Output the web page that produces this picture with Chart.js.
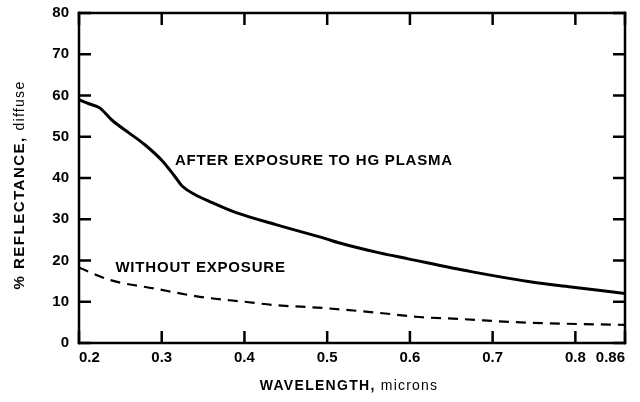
<!DOCTYPE html>
<html>
<head>
<meta charset="utf-8">
<script src="https://cdn.jsdelivr.net/npm/chart.js@4/dist/chart.umd.min.js"></script>
<style>
html,body{margin:0;padding:0;background:#fff;}
</style>
</head>
<body>
<canvas id="c" width="640" height="402"></canvas>
<script>
// Wavelength (microns) and % reflectance
const afterX = [0.200, 0.212, 0.225, 0.240, 0.260, 0.280, 0.300, 0.315, 0.325, 0.340, 0.358, 0.390, 0.438, 0.498, 0.514, 0.562, 0.598, 0.674, 0.747, 0.795, 0.860];
const afterY = [59.0, 58.0, 57.0, 54.0, 51.0, 48.0, 44.3, 40.6, 38.0, 36.0, 34.3, 31.6, 28.7, 25.3, 24.3, 21.9, 20.4, 17.3, 14.8, 13.6, 12.0];
const withoutX = [0.200, 0.237, 0.294, 0.346, 0.400, 0.436, 0.494, 0.563, 0.611, 0.663, 0.723, 0.803, 0.860];
const withoutY = [18.3, 15.3, 13.1, 11.2, 10.0, 9.2, 8.5, 7.3, 6.3, 5.8, 5.1, 4.6, 4.4];
const xTicks = [0.2, 0.3, 0.4, 0.5, 0.6, 0.7, 0.8, 0.86];
const xTickLabels = ['0.2', '0.3', '0.4', '0.5', '0.6', '0.7', '0.8', '0.86'];
const yTicks = [0, 10, 20, 30, 40, 50, 60, 70, 80];
const seriesLabels = ['AFTER EXPOSURE TO HG PLASMA', 'WITHOUT EXPOSURE'];

const toPts = (xs, ys) => xs.map((x, i) => ({x: x, y: ys[i]}));
const FONT = '"Liberation Sans", "DejaVu Sans", sans-serif';

function drawMixed(ctx, parts, cx, cy) {
  let total = 0;
  parts.forEach(p => { ctx.font = p.font; ctx.letterSpacing = p.ls || '0px'; p.w = ctx.measureText(p.text).width; total += p.w; });
  let x = cx - total / 2;
  parts.forEach(p => { ctx.font = p.font; ctx.letterSpacing = p.ls || '0px'; ctx.fillText(p.text, x, cy); x += p.w; });
}

const framePlugin = {
  id: 'frame',
  afterDraw(chart) {
    const ctx = chart.ctx, a = chart.chartArea;
    const sx = chart.scales.x, sy = chart.scales.y;
    ctx.save();
    ctx.setLineDash([]);
    ctx.fillStyle = '#000';
    const T = 2.5, L = 12, W = 2.5;
    // inward tick marks on all four sides
    for (let i = 0; i < xTicks.length; i++) {
      const px = sx.getPixelForValue(xTicks[i]);
      ctx.fillRect(px - W / 2, a.bottom - L, W, L);
      ctx.fillRect(px - W / 2, a.top, W, L);
    }
    for (let i = 0; i < yTicks.length; i++) {
      const py = sy.getPixelForValue(yTicks[i]);
      ctx.fillRect(a.left, py - W / 2, L, W);
      ctx.fillRect(a.right - L, py - W / 2, L, W);
    }
    // frame
    ctx.fillRect(a.left - T / 2, a.top - T / 2, a.right - a.left + T, T);
    ctx.fillRect(a.left - T / 2, a.bottom - T / 2, a.right - a.left + T, T);
    ctx.fillRect(a.left - T / 2, a.top - T / 2, T, a.bottom - a.top + T);
    ctx.fillRect(a.right - T / 2, a.top - T / 2, T, a.bottom - a.top + T);
    // series labels
    ctx.textBaseline = 'middle';
    ctx.textAlign = 'left';
    ctx.font = 'bold 15px ' + FONT;
    ctx.letterSpacing = '0.8px';
    ctx.fillText(seriesLabels[0], sx.getPixelForValue(0.316), sy.getPixelForValue(44.2));
    ctx.fillText(seriesLabels[1], sx.getPixelForValue(0.244), sy.getPixelForValue(18.2));
    // axis titles
    drawMixed(ctx, [
      {text: 'WAVELENGTH, ', font: 'bold 14px ' + FONT, ls: '1.3px'},
      {text: 'microns', font: '14px ' + FONT, ls: '1.2px'}
    ], 349, 386);
    ctx.translate(20, 185);
    ctx.rotate(-Math.PI / 2);
    drawMixed(ctx, [
      {text: '% REFLECTANCE, ', font: 'bold 15px ' + FONT, ls: '1.5px'},
      {text: 'diffuse', font: '14px ' + FONT, ls: '1.3px'}
    ], 0, 0);
    ctx.restore();
  }
};

new Chart(document.getElementById('c'), {
  type: 'line',
  data: {
    datasets: [
      {label: seriesLabels[0], data: toPts(afterX, afterY), borderColor: '#000', borderWidth: 3, pointRadius: 0, cubicInterpolationMode: 'monotone', fill: false},
      {label: seriesLabels[1], data: toPts(withoutX, withoutY), borderColor: '#000', borderWidth: 2.2, borderDash: [10, 7], pointRadius: 0, cubicInterpolationMode: 'monotone', fill: false}
    ]
  },
  options: {
    responsive: false,
    animation: false,
    layout: {padding: {top: 13, right: 15, left: 0, bottom: 0}},
    plugins: {legend: {display: false}, tooltip: {enabled: false}},
    scales: {
      x: {
        type: 'linear', min: 0.2, max: 0.86,
        afterBuildTicks: s => { s.ticks = xTicks.map(v => ({value: v})); },
        afterFit: s => { s.height = 402 - 343; s.paddingLeft = 0; s.paddingRight = 0; },
        grid: {display: false, drawTicks: false},
        border: {display: false},
        ticks: {
          padding: 6, color: '#000', maxRotation: 0, autoSkip: false, align: 'inner',
          font: {family: FONT, size: 15, weight: 'bold'},
          callback: (v) => { const i = xTicks.findIndex(t => Math.abs(t - v) < 1e-6); return i >= 0 ? xTickLabels[i] : ''; }
        }
      },
      y: {
        min: 0, max: 80,
        afterBuildTicks: s => { s.ticks = yTicks.map(v => ({value: v})); },
        afterFit: s => { s.width = 79; s.paddingTop = 0; s.paddingBottom = 0; },
        grid: {display: false, drawTicks: false},
        border: {display: false},
        ticks: {padding: 10, color: '#000', font: {family: FONT, size: 15, weight: 'bold'}}
      }
    }
  },
  plugins: [framePlugin]
});
</script>
</body>
</html>
